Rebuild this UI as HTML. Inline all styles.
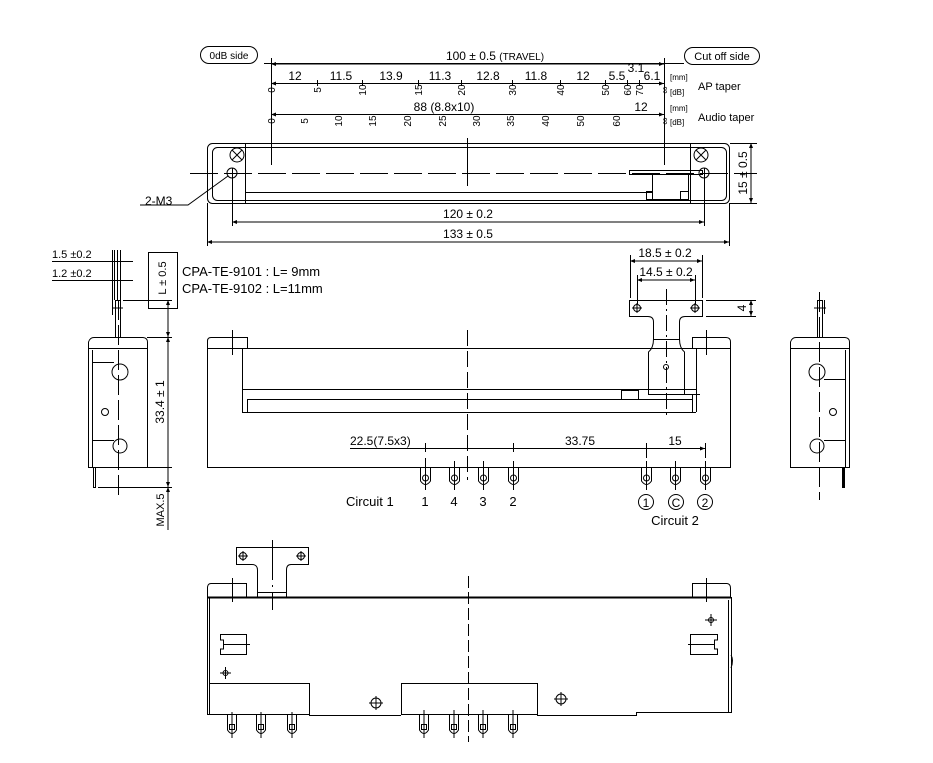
<!DOCTYPE html>
<html><head><meta charset="utf-8"><style>
html,body{margin:0;padding:0;background:#fff}
svg{display:block}
text{font-family:"Liberation Sans","DejaVu Sans",sans-serif;fill:#000}
</style></head><body>
<svg width="933" height="763" viewBox="0 0 933 763" xmlns="http://www.w3.org/2000/svg">
<defs>
<marker id="a" markerWidth="6" markerHeight="6" refX="5" refY="3" orient="auto-start-reverse"><path d="M0,1 L5,3 L0,5 z" fill="#000"/></marker>
</defs>
<g fill="none" stroke="#000" stroke-width="1">
<!-- TOP VIEW -->
<rect x="200.5" y="46.5" width="57" height="17" rx="8.5"/>
<rect x="684.5" y="47.5" width="75" height="17" rx="8.5"/>
<line x1="264" y1="63.5" x2="684" y2="63.5"/>
<line x1="271" y1="64" x2="664" y2="64" marker-start="url(#a)" marker-end="url(#a)"/>
<line x1="271" y1="83.5" x2="664" y2="83.5" marker-start="url(#a)" marker-end="url(#a)"/>
<line x1="271" y1="114.5" x2="664" y2="114.5" marker-start="url(#a)" marker-end="url(#a)"/>
<line x1="271.5" y1="58" x2="271.5" y2="165"/>
<line x1="664.5" y1="58" x2="664.5" y2="165"/>
<g>
<line x1="317.5" y1="80" x2="317.5" y2="86"/><line x1="362.5" y1="80" x2="362.5" y2="86"/><line x1="418.5" y1="80" x2="418.5" y2="86"/><line x1="461.5" y1="80" x2="461.5" y2="86"/><line x1="512.5" y1="80" x2="512.5" y2="86"/><line x1="560.5" y1="80" x2="560.5" y2="86"/><line x1="605.5" y1="80" x2="605.5" y2="86"/><line x1="627.5" y1="80" x2="627.5" y2="86"/><line x1="639.5" y1="80" x2="639.5" y2="86"/>
</g>
<rect x="207.5" y="143.5" width="522" height="60" rx="5"/>
<rect x="212.5" y="147.5" width="514" height="53" rx="5"/>
<line x1="245.5" y1="143" x2="245.5" y2="203"/>
<line x1="690.5" y1="143" x2="690.5" y2="203"/>
<line x1="245" y1="192.5" x2="652" y2="192.5"/>
<line x1="190" y1="173.5" x2="757" y2="173.5" stroke-dasharray="28,6"/>
<line x1="467.5" y1="138" x2="467.5" y2="186"/>
<circle cx="237" cy="155" r="7"/><path d="M232,150 L242,160 M242,150 L232,160"/>
<circle cx="701" cy="155" r="7"/><path d="M696,150 L706,160 M706,150 L696,160"/>
<circle cx="232" cy="173" r="5"/><circle cx="704" cy="173" r="5"/>
<rect x="629.5" y="170.5" width="73" height="4"/>
<rect x="652.5" y="174.5" width="36" height="25"/>
<rect x="646.5" y="191.5" width="6" height="8"/><rect x="680.5" y="191.5" width="8" height="8"/>
<line x1="232.5" y1="168" x2="232.5" y2="226"/>
<line x1="704.5" y1="168" x2="704.5" y2="226"/>
<line x1="232" y1="222" x2="704" y2="222" marker-start="url(#a)" marker-end="url(#a)"/>
<line x1="207.5" y1="203" x2="207.5" y2="246"/>
<line x1="729.5" y1="203" x2="729.5" y2="246"/>
<line x1="207" y1="242" x2="729" y2="242" marker-start="url(#a)" marker-end="url(#a)"/>
<line x1="730" y1="143.5" x2="757" y2="143.5"/><line x1="730" y1="203.5" x2="757" y2="203.5"/>
<line x1="751" y1="143" x2="751" y2="203" marker-start="url(#a)" marker-end="url(#a)"/>
<path d="M228,176 L188,205 L140,205"/>
<!-- FRONT VIEW -->
<path d="M207.5,467.5 V348.5 H730.5 V467.5 Z"/>
<path d="M207.5,348 V341 Q207.5,337.5 211,337.5 H247.5 V348"/>
<path d="M692.5,348 V337.5 H726 Q730.5,337.5 730.5,342 V348"/>
<line x1="232.5" y1="330" x2="232.5" y2="355"/>
<line x1="706.5" y1="330" x2="706.5" y2="355"/>
<line x1="242.5" y1="348" x2="242.5" y2="412"/>
<line x1="242" y1="389.5" x2="696" y2="389.5"/>
<line x1="247" y1="399.5" x2="692" y2="399.5"/>
<line x1="242" y1="412.5" x2="696" y2="412.5"/>
<line x1="247.5" y1="399" x2="247.5" y2="412"/>
<line x1="692.5" y1="394" x2="692.5" y2="412"/>
<line x1="696.5" y1="348" x2="696.5" y2="412"/>
<rect x="621.5" y="390.5" width="17" height="9"/>
<path d="M629.5,300.5 H702.5 V316.5 H685 Q679.5,316.5 679.5,322 V339.5 H653.5 V322 Q653.5,316.5 648,316.5 H629.5 Z"/>
<path d="M653.5,339 Q653.5,348 648.5,352 V394.5 H684.5 V352 Q679.5,348 679.5,339"/>
<line x1="648" y1="394.5" x2="700" y2="394.5"/>
<circle cx="637" cy="308" r="3.5"/><path d="M632,308 H642 M637,303 V313"/>
<circle cx="695" cy="308" r="3.5"/><path d="M690,308 H700 M695,303 V313"/>
<circle cx="666" cy="367" r="2.5"/>
<line x1="666.5" y1="289" x2="666.5" y2="418" stroke-dasharray="16,4,2,4"/>
<line x1="467.5" y1="330" x2="467.5" y2="480" stroke-dasharray="16,5"/>
<line x1="630.5" y1="255" x2="630.5" y2="298"/><line x1="702.5" y1="255" x2="702.5" y2="298"/>
<line x1="637.5" y1="275" x2="637.5" y2="304"/><line x1="695.5" y1="275" x2="695.5" y2="304"/>
<line x1="630" y1="261" x2="702" y2="261" marker-start="url(#a)" marker-end="url(#a)"/>
<line x1="637" y1="280" x2="695" y2="280" marker-start="url(#a)" marker-end="url(#a)"/>
<line x1="706" y1="300.5" x2="756" y2="300.5"/><line x1="706" y1="316.5" x2="756" y2="316.5"/>
<line x1="751" y1="300" x2="751" y2="316" marker-start="url(#a)" marker-end="url(#a)"/>
<line x1="350" y1="448.5" x2="705" y2="448.5" marker-end="url(#a)"/>
<line x1="425.5" y1="443" x2="425.5" y2="452"/>
<line x1="513.5" y1="443" x2="513.5" y2="452"/>
<line x1="646.5" y1="443" x2="646.5" y2="458"/>
<line x1="705.5" y1="443" x2="705.5" y2="458"/>
<!-- pins front -->
<g>
<path d="M420.5,467 V481 Q425.5,488 430.5,481 V467"/><circle cx="425.5" cy="478" r="3"/><line x1="425.5" y1="458" x2="425.5" y2="490"/>
<path d="M449.5,467 V481 Q454.5,488 459.5,481 V467"/><circle cx="454.5" cy="478" r="3"/><line x1="454.5" y1="461" x2="454.5" y2="490"/>
<path d="M478.5,467 V481 Q483.5,488 488.5,481 V467"/><circle cx="483.5" cy="478" r="3"/><line x1="483.5" y1="461" x2="483.5" y2="490"/>
<path d="M508.5,467 V481 Q513.5,488 518.5,481 V467"/><circle cx="513.5" cy="478" r="3"/><line x1="513.5" y1="461" x2="513.5" y2="490"/>
<path d="M641.5,467 V481 Q646.5,488 651.5,481 V467"/><circle cx="646.5" cy="478" r="3"/><line x1="646.5" y1="461" x2="646.5" y2="490"/>
<path d="M670.5,467 V481 Q675.5,488 680.5,481 V467"/><circle cx="675.5" cy="478" r="3"/><line x1="675.5" y1="461" x2="675.5" y2="490"/>
<path d="M700.5,467 V481 Q705.5,488 710.5,481 V467"/><circle cx="705.5" cy="478" r="3"/><line x1="705.5" y1="461" x2="705.5" y2="490"/>
</g>
<circle cx="646" cy="502" r="7.5"/><circle cx="676" cy="502" r="7.5"/><circle cx="705" cy="502" r="7.5"/>
<!-- LEFT SIDE VIEW -->
<path d="M88.5,348 V342 Q90,337.5 94,337.5 H143 Q147.5,338 147.5,342 V348"/>
<path d="M88.5,348.5 H147.5 V467.5 H88.5 Z"/>
<path d="M92.5,350 V467"/>
<path d="M92.5,362.5 H114 M92.5,440.5 H114"/>
<circle cx="120" cy="372" r="8"/><circle cx="120" cy="446" r="7"/>
<circle cx="105" cy="412" r="3.5"/>
<rect x="115.5" y="300.5" width="5" height="37"/>
<line x1="118.5" y1="300" x2="118.5" y2="500" stroke-dasharray="20,5"/>
<path d="M112,308 H123 M112.5,290 V315"/>
<rect x="93.5" y="467.5" width="2" height="20"/>
<line x1="112.5" y1="250" x2="112.5" y2="300"/><line x1="114.5" y1="250" x2="114.5" y2="300"/><line x1="117.5" y1="250" x2="117.5" y2="300"/><line x1="120.5" y1="250" x2="120.5" y2="300"/>
<line x1="52" y1="261.5" x2="133" y2="261.5"/><line x1="52" y1="280.5" x2="133" y2="280.5"/>
<rect x="148.5" y="252.5" width="29" height="56"/>
<line x1="123" y1="300.5" x2="172" y2="300.5"/>
<line x1="147" y1="337.5" x2="172" y2="337.5"/>
<line x1="147" y1="467.5" x2="172" y2="467.5"/>
<line x1="98" y1="487.5" x2="172" y2="487.5"/>
<line x1="168" y1="300" x2="168" y2="337" marker-start="url(#a)" marker-end="url(#a)"/>
<line x1="168" y1="337" x2="168" y2="487" marker-start="url(#a)" marker-end="url(#a)"/>
<line x1="168" y1="487" x2="168" y2="530" marker-start="url(#a)"/>
<!-- RIGHT SIDE VIEW -->
<path d="M790.5,348 V342 Q792,337.5 796,337.5 H845 Q849.5,338 849.5,342 V348"/>
<path d="M790.5,348.5 H849.5 V467.5 H790.5 Z"/>
<path d="M845.5,350 V467"/>
<path d="M845.5,379.5 H824 M845.5,440.5 H824"/>
<circle cx="817" cy="372" r="8"/><circle cx="817" cy="446" r="7"/>
<circle cx="833" cy="412" r="3.5"/>
<rect x="817.5" y="300.5" width="5" height="37"/>
<line x1="819.5" y1="292" x2="819.5" y2="500" stroke-dasharray="20,5"/>
<path d="M814,308 H826 M824.5,300 V314"/>
<rect x="842.5" y="467.5" width="2" height="20" fill="#000"/>
<!-- BOTTOM VIEW -->
<path d="M257.5,597 V570 Q257.5,564.5 252,564.5 H236.5 V547.5 H308.5 V564.5 H291 Q286.5,564.5 286.5,570 V597"/>
<line x1="257" y1="592.5" x2="286" y2="592.5"/>
<circle cx="243" cy="556" r="3.5"/><path d="M238,556 H248 M243,551 V561"/>
<circle cx="301" cy="556" r="3.5"/><path d="M296,556 H306 M301,551 V561"/>
<line x1="272.5" y1="540" x2="272.5" y2="610" stroke-dasharray="40,5,2,5"/>
<path d="M207.5,597 V587 Q208,583.5 211,583.5 H246.5 V597"/>
<path d="M692.5,597 V583.5 H727 Q730.5,584 730.5,588 V597"/>
<line x1="232.5" y1="578" x2="232.5" y2="602"/>
<line x1="706.5" y1="578" x2="706.5" y2="602"/>
<line x1="207" y1="597.5" x2="731" y2="597.5" stroke-width="2"/>
<path d="M207.5,597 V714.5 H309.5 M209.5,597 V714"/>
<rect x="209.5" y="683.5" width="100" height="31"/>
<rect x="401.5" y="683.5" width="136" height="31"/>
<path d="M309,715.5 H401 M537,715.5 H636.5 V712.5 H731.5 V597 M728.5,600 V712"/>
<path d="M731,655 Q734,660 731,668"/>
<path d="M220.5,634.5 H246.5 V654.5 H220.5 V649 H223.5 V640 H220.5 Z M223,644.5 H250"/>
<path d="M717.5,634.5 H690.5 V654.5 H717.5 V649 H714.5 V640 H717.5 Z M688,644.5 H714"/>
<path d="M220,673 H231 M225.5,667 V679"/><circle cx="225.5" cy="673" r="2.5"/>
<path d="M705,620 H717 M711,614 V626"/><circle cx="711" cy="620" r="2.5"/>
<circle cx="376" cy="703" r="5"/><path d="M369,703 H383 M376,696 V710"/>
<circle cx="561" cy="699" r="5"/><path d="M554,699 H568 M561,692 V706"/>
<line x1="468.5" y1="576" x2="468.5" y2="742" stroke-dasharray="12,4"/>
<g>
<path d="M227.5,715 V730 Q232,737 236.5,730 V715"/><rect x="229.5" y="724.5" width="5" height="5"/><line x1="232" y1="712" x2="232" y2="738"/>
<path d="M256.5,715 V730 Q261,737 265.5,730 V715"/><rect x="258.5" y="724.5" width="5" height="5"/><line x1="261" y1="712" x2="261" y2="738"/>
<path d="M287.5,715 V730 Q292,737 296.5,730 V715"/><rect x="289.5" y="724.5" width="5" height="5"/><line x1="292" y1="712" x2="292" y2="738"/>
<path d="M419.5,715 V730 Q424,737 428.5,730 V715"/><rect x="421.5" y="724.5" width="5" height="5"/><line x1="424" y1="710" x2="424" y2="738"/>
<path d="M449.5,715 V730 Q454,737 458.5,730 V715"/><rect x="451.5" y="724.5" width="5" height="5"/><line x1="454" y1="710" x2="454" y2="738"/>
<path d="M478.5,715 V730 Q483,737 487.5,730 V715"/><rect x="480.5" y="724.5" width="5" height="5"/><line x1="483" y1="710" x2="483" y2="738"/>
<path d="M508.5,715 V730 Q513,737 517.5,730 V715"/><rect x="510.5" y="724.5" width="5" height="5"/><line x1="513" y1="710" x2="513" y2="738"/>
</g>
</g>
<!-- TEXT -->
<g font-size="11">
<text x="229" y="59" text-anchor="middle" font-size="10">0dB side</text>
<text x="722" y="60" text-anchor="middle" font-size="11">Cut off side</text>
<text x="495" y="60" text-anchor="middle" font-size="12">100 ± 0.5 <tspan font-size="10">(TRAVEL)</tspan></text>
<g font-size="12">
<text x="295" y="80" text-anchor="middle">12</text>
<text x="341" y="80" text-anchor="middle">11.5</text>
<text x="391" y="80" text-anchor="middle">13.9</text>
<text x="440" y="80" text-anchor="middle">11.3</text>
<text x="488" y="80" text-anchor="middle">12.8</text>
<text x="536" y="80" text-anchor="middle">11.8</text>
<text x="583" y="80" text-anchor="middle">12</text>
<text x="617" y="80" text-anchor="middle">5.5</text>
<text x="636" y="72" text-anchor="middle">3.1</text>
<text x="652" y="80" text-anchor="middle">6.1</text>
<text x="444" y="111" text-anchor="middle">88 (8.8x10)</text>
<text x="641" y="111" text-anchor="middle">12</text>
</g>
<g font-size="10">
<text transform="translate(275,90) rotate(-90)" text-anchor="middle">0</text>
<text transform="translate(321,90) rotate(-90)" text-anchor="middle">5</text>
<text transform="translate(366,90) rotate(-90)" text-anchor="middle">10</text>
<text transform="translate(422,90) rotate(-90)" text-anchor="middle">15</text>
<text transform="translate(465,90) rotate(-90)" text-anchor="middle">20</text>
<text transform="translate(516,90) rotate(-90)" text-anchor="middle">30</text>
<text transform="translate(564,90) rotate(-90)" text-anchor="middle">40</text>
<text transform="translate(609,90) rotate(-90)" text-anchor="middle">50</text>
<text transform="translate(631,90) rotate(-90)" text-anchor="middle">60</text>
<text transform="translate(643,90) rotate(-90)" text-anchor="middle">70</text>
<text transform="translate(668,90) rotate(-90)" text-anchor="middle">∞</text>
<text transform="translate(275,121) rotate(-90)" text-anchor="middle">0</text>
<text transform="translate(308,121) rotate(-90)" text-anchor="middle">5</text>
<text transform="translate(342,121) rotate(-90)" text-anchor="middle">10</text>
<text transform="translate(376,121) rotate(-90)" text-anchor="middle">15</text>
<text transform="translate(411,121) rotate(-90)" text-anchor="middle">20</text>
<text transform="translate(446,121) rotate(-90)" text-anchor="middle">25</text>
<text transform="translate(480,121) rotate(-90)" text-anchor="middle">30</text>
<text transform="translate(514,121) rotate(-90)" text-anchor="middle">35</text>
<text transform="translate(549,121) rotate(-90)" text-anchor="middle">40</text>
<text transform="translate(584,121) rotate(-90)" text-anchor="middle">50</text>
<text transform="translate(620,121) rotate(-90)" text-anchor="middle">60</text>
<text transform="translate(668,121) rotate(-90)" text-anchor="middle">∞</text>
</g>
<g font-size="8" fill="#333">
<text x="670" y="80">[mm]</text><text x="670" y="95">[dB]</text>
<text x="670" y="111">[mm]</text><text x="670" y="125">[dB]</text>
</g>
<text x="698" y="90">AP taper</text>
<text x="698" y="121">Audio taper</text>
<text x="468" y="218" text-anchor="middle" font-size="12">120 ± 0.2</text>
<text x="468" y="238" text-anchor="middle" font-size="12">133 ± 0.5</text>
<text transform="translate(747,173) rotate(-90)" text-anchor="middle" font-size="12">15 ± 0.5</text>
<text x="145" y="205" font-size="12">2-M3</text>
<text x="52" y="258" font-size="11">1.5 ±0.2</text>
<text x="52" y="277" font-size="11">1.2 ±0.2</text>
<text transform="translate(166,278) rotate(-90)" text-anchor="middle" font-size="11">L ± 0.5</text>
<text x="182" y="276" font-size="13">CPA-TE-9101 : L=  9mm</text>
<text x="182" y="293" font-size="13">CPA-TE-9102 : L=11mm</text>
<text transform="translate(164,402) rotate(-90)" text-anchor="middle" font-size="12">33.4 ± 1</text>
<text transform="translate(164,510) rotate(-90)" text-anchor="middle" font-size="11">MAX.5</text>
<text x="665" y="257" text-anchor="middle" font-size="12">18.5 ± 0.2</text>
<text x="666" y="276" text-anchor="middle" font-size="12">14.5 ± 0.2</text>
<text transform="translate(746,308) rotate(-90)" text-anchor="middle" font-size="12">4</text>
<text x="350" y="445" font-size="12">22.5(7.5x3)</text>
<text x="580" y="445" text-anchor="middle" font-size="12">33.75</text>
<text x="675" y="445" text-anchor="middle" font-size="12">15</text>
<text x="346" y="506" font-size="13" fill="#1a1a3a">Circuit 1</text>
<text x="425" y="506" text-anchor="middle" font-size="13" fill="#7a0000">1</text>
<text x="454" y="506" text-anchor="middle" font-size="13" fill="#004000">4</text>
<text x="483" y="506" text-anchor="middle" font-size="13" fill="#000040">3</text>
<text x="513" y="506" text-anchor="middle" font-size="13" fill="#000040">2</text>
<text x="646" y="507" text-anchor="middle" font-size="12" fill="#7a0000">1</text>
<text x="676" y="507" text-anchor="middle" font-size="12">C</text>
<text x="705" y="507" text-anchor="middle" font-size="12">2</text>
<text x="675" y="525" text-anchor="middle" font-size="13" fill="#1a1a3a">Circuit 2</text>
</g>
</svg>
</body></html>
